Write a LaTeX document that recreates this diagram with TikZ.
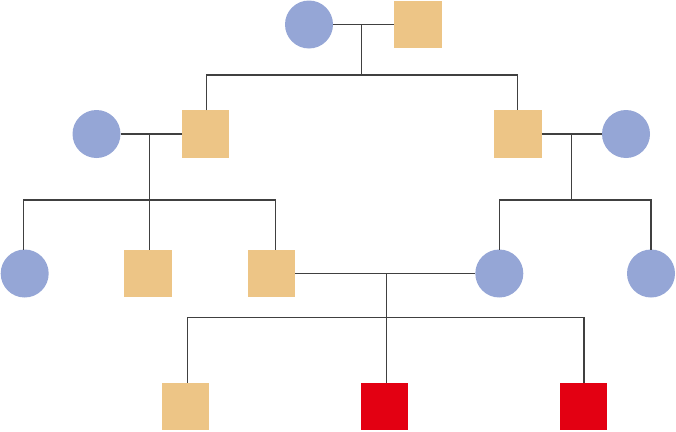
\documentclass[tikz,border=0pt]{standalone}
\begin{document}
\begin{tikzpicture}[x=1pt,y=-1pt,
  female/.style={circle,fill=fem,minimum size=48pt,inner sep=0pt,outer sep=0pt},
  male/.style={rectangle,fill=mal,minimum size=47.5pt,inner sep=0pt,outer sep=0pt},
  affected/.style={rectangle,fill=aff,minimum size=47.5pt,inner sep=0pt,outer sep=0pt},
  link/.style={draw=lin,line width=1.3pt}]
\definecolor{fem}{HTML}{95A6D6}
\definecolor{mal}{HTML}{EDC586}
\definecolor{aff}{HTML}{E30012}
\definecolor{lin}{HTML}{404040}
\useasboundingbox (0,0) rectangle (676,431);
% row 1
\node[female] (C1) at (309,24.5) {};
\node[male] (S1) at (418,24.5) {};
% row 2
\node[female] (C2) at (96.5,134) {};
\node[male] (S2) at (205.5,134) {};
\node[male] (S3) at (518,134) {};
\node[female] (C3) at (626,134) {};
% row 3
\node[female] (C4) at (24.7,273.5) {};
\node[male] (S4) at (148,273.5) {};
\node[male] (S5) at (271.5,273.5) {};
\node[female] (C5) at (499.3,273.5) {};
\node[female] (C6) at (651,273.5) {};
% row 4
\node[male] (S6) at (185.3,406.5) {};
\node[affected] (R1) at (384.5,406.5) {};
\node[affected] (R2) at (583.5,406.5) {};
% family 1
\coordinate (j1) at (361.7,24.5);
\coordinate (b1) at (361.7,75);
\draw[link] (C1.east) -- (S1.west);
\draw[link] (j1) -- (b1);
\draw[link] ([xshift=0.8]S2.north) |- (b1) -| ([xshift=-0.7]S3.north);
% family 2
\coordinate (j2) at (149.7,134);
\coordinate (b2) at (149.7,200);
\draw[link] (C2.east) -- (S2.west);
\draw[link] (j2) -- (b2);
\draw[link] ([xshift=-1.4]C4.north) |- (b2) -| ([xshift=3.8]S5.north);
\draw[link] (b2) -- (b2 |- S4.north);
% family 3
\coordinate (j3) at (571.7,134);
\coordinate (b3) at (571.7,200);
\draw[link] (S3.east) -- (C3.west);
\draw[link] (j3) -- (b3);
\draw[link] (C5.north) |- (b3) -| (C6.north);
% family 4
\coordinate (j4) at (386.3,273.5);
\coordinate (b4) at (386.3,317.7);
\draw[link] (S5.east) -- (C5.west);
\draw[link] (j4) -- (b4);
\draw[link] ([xshift=2]S6.north) |- (b4) -| ([xshift=0.5]R2.north);
\draw[link] (b4) -- (b4 |- R1.north);
\end{tikzpicture}
\end{document}
